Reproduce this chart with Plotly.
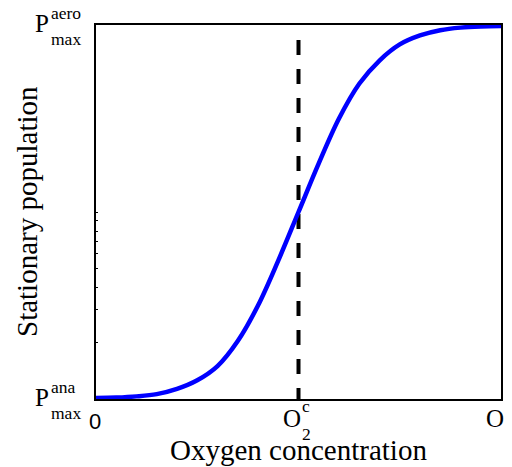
import plotly.graph_objects as go

# ---- data (normalized oxygen concentration vs normalized stationary population) ----
oxygen = [0.0, 0.05, 0.1, 0.15, 0.2, 0.25, 0.3, 0.35, 0.4, 0.45, 0.5,
          0.55, 0.6, 0.65, 0.7, 0.75, 0.8, 0.85, 0.9, 0.95, 1.0]
population = [0.003, 0.004, 0.007, 0.013, 0.027, 0.05, 0.088, 0.155, 0.25, 0.37, 0.5,
              0.63, 0.75, 0.843, 0.905, 0.948, 0.972, 0.986, 0.993, 0.996, 0.997]

o2_critical = 0.5
dash_top = 0.96

x_tick_vals = [0.0, 0.5, 1.0]
x_tick_main = ["0", "O", "O"]
x_tick_sup = ["", "c", "*"]
x_tick_sub = ["", "2", "2"]

y_tick_vals = [0.0, 1.0]
y_tick_sup = ["ana", "aero"]
y_tick_sub = ["max", "max"]

y_minor_ticks = [0.150, 0.238, 0.299, 0.350, 0.388, 0.422, 0.449, 0.476, 0.500]

SERIF = "Liberation Serif, Times New Roman, serif"
SANS = "Liberation Sans, Arial, sans-serif"

fig = go.Figure()
fig.add_trace(go.Scatter(x=[o2_critical, o2_critical], y=[dash_top, 0.0], mode="lines",
                         line=dict(color="black", width=4, dash="15px,14px"),
                         hoverinfo="skip", showlegend=False))
fig.add_trace(go.Scatter(x=oxygen, y=population, mode="lines",
                         line=dict(color="#0000ff", width=4.5, shape="spline", smoothing=1.0),
                         showlegend=False))

ann = []
for v, m, sp, sb in zip(x_tick_vals, x_tick_main, x_tick_sup, x_tick_sub):
    if m == "0":
        ann.append(dict(x=v, y=0, xref="x", yref="paper", text=m, showarrow=False,
                        font=dict(family=SANS, size=22, color="black"),
                        xanchor="center", yanchor="middle", xshift=-1, yshift=-22))
    else:
        ann.append(dict(x=v, y=0, xref="x", yref="paper", text=m, showarrow=False,
                        font=dict(family=SERIF, size=25, color="black"),
                        xanchor="center", yanchor="middle", xshift=-6.5, yshift=-19))
        ann.append(dict(x=v, y=0, xref="x", yref="paper", text=sp, showarrow=False,
                        font=dict(family=SERIF, size=17.5, color="black"),
                        xanchor="center", yanchor="middle", xshift=7, yshift=-6.5))
        ann.append(dict(x=v, y=0, xref="x", yref="paper", text=sb, showarrow=False,
                        font=dict(family=SERIF, size=17.5, color="black"),
                        xanchor="center", yanchor="middle", xshift=8, yshift=-34.5))

for v, sp, sb in zip(y_tick_vals, y_tick_sup, y_tick_sub):
    ann.append(dict(x=0, y=v, xref="paper", yref="y", text="P", showarrow=False,
                    font=dict(family=SERIF, size=25, color="black"),
                    xanchor="center", yanchor="middle", xshift=-54, yshift=2))
    ann.append(dict(x=0, y=v, xref="paper", yref="y", text=sp, showarrow=False,
                    font=dict(family=SERIF, size=17.5, color="black"),
                    xanchor="center", yanchor="middle",
                    xshift=-33 if sp == "ana" else -30, yshift=12))
    ann.append(dict(x=0, y=v, xref="paper", yref="y", text=sb, showarrow=False,
                    font=dict(family=SERIF, size=17.5, color="black"),
                    xanchor="center", yanchor="middle", xshift=-30.5, yshift=-14))

ann.append(dict(x=0.5, y=0, xref="paper", yref="paper", text="Oxygen concentration",
                showarrow=False, font=dict(family=SERIF, size=29, color="black"),
                xanchor="center", yanchor="middle", yshift=-51))
ann.append(dict(x=0, y=0.5, xref="paper", yref="paper", text="Stationary population",
                showarrow=False, textangle=-90, font=dict(family=SERIF, size=29, color="black"),
                xanchor="center", yanchor="middle", xshift=-69))

fig.update_layout(
    width=504, height=459,
    margin=dict(l=88, r=9, t=17, b=68),
    paper_bgcolor="white", plot_bgcolor="white",
    font=dict(family=SERIF, color="black"),
    annotations=ann,
    xaxis=dict(range=[0, 1], showgrid=False, zeroline=False, showline=True,
               linecolor="black", linewidth=1.5, mirror=True,
               tickvals=x_tick_vals, ticks="inside", ticklen=4, tickcolor="black",
               showticklabels=False),
    yaxis=dict(range=[0, 1], showgrid=False, zeroline=False, showline=True,
               linecolor="black", linewidth=1.5, mirror=True,
               tickvals=y_tick_vals, ticks="inside", ticklen=4, tickcolor="black",
               showticklabels=False,
               minor=dict(tickvals=y_minor_ticks, ticks="inside", ticklen=2,
                          tickcolor="black", showgrid=False)),
)

fig.write_html("out.html")
